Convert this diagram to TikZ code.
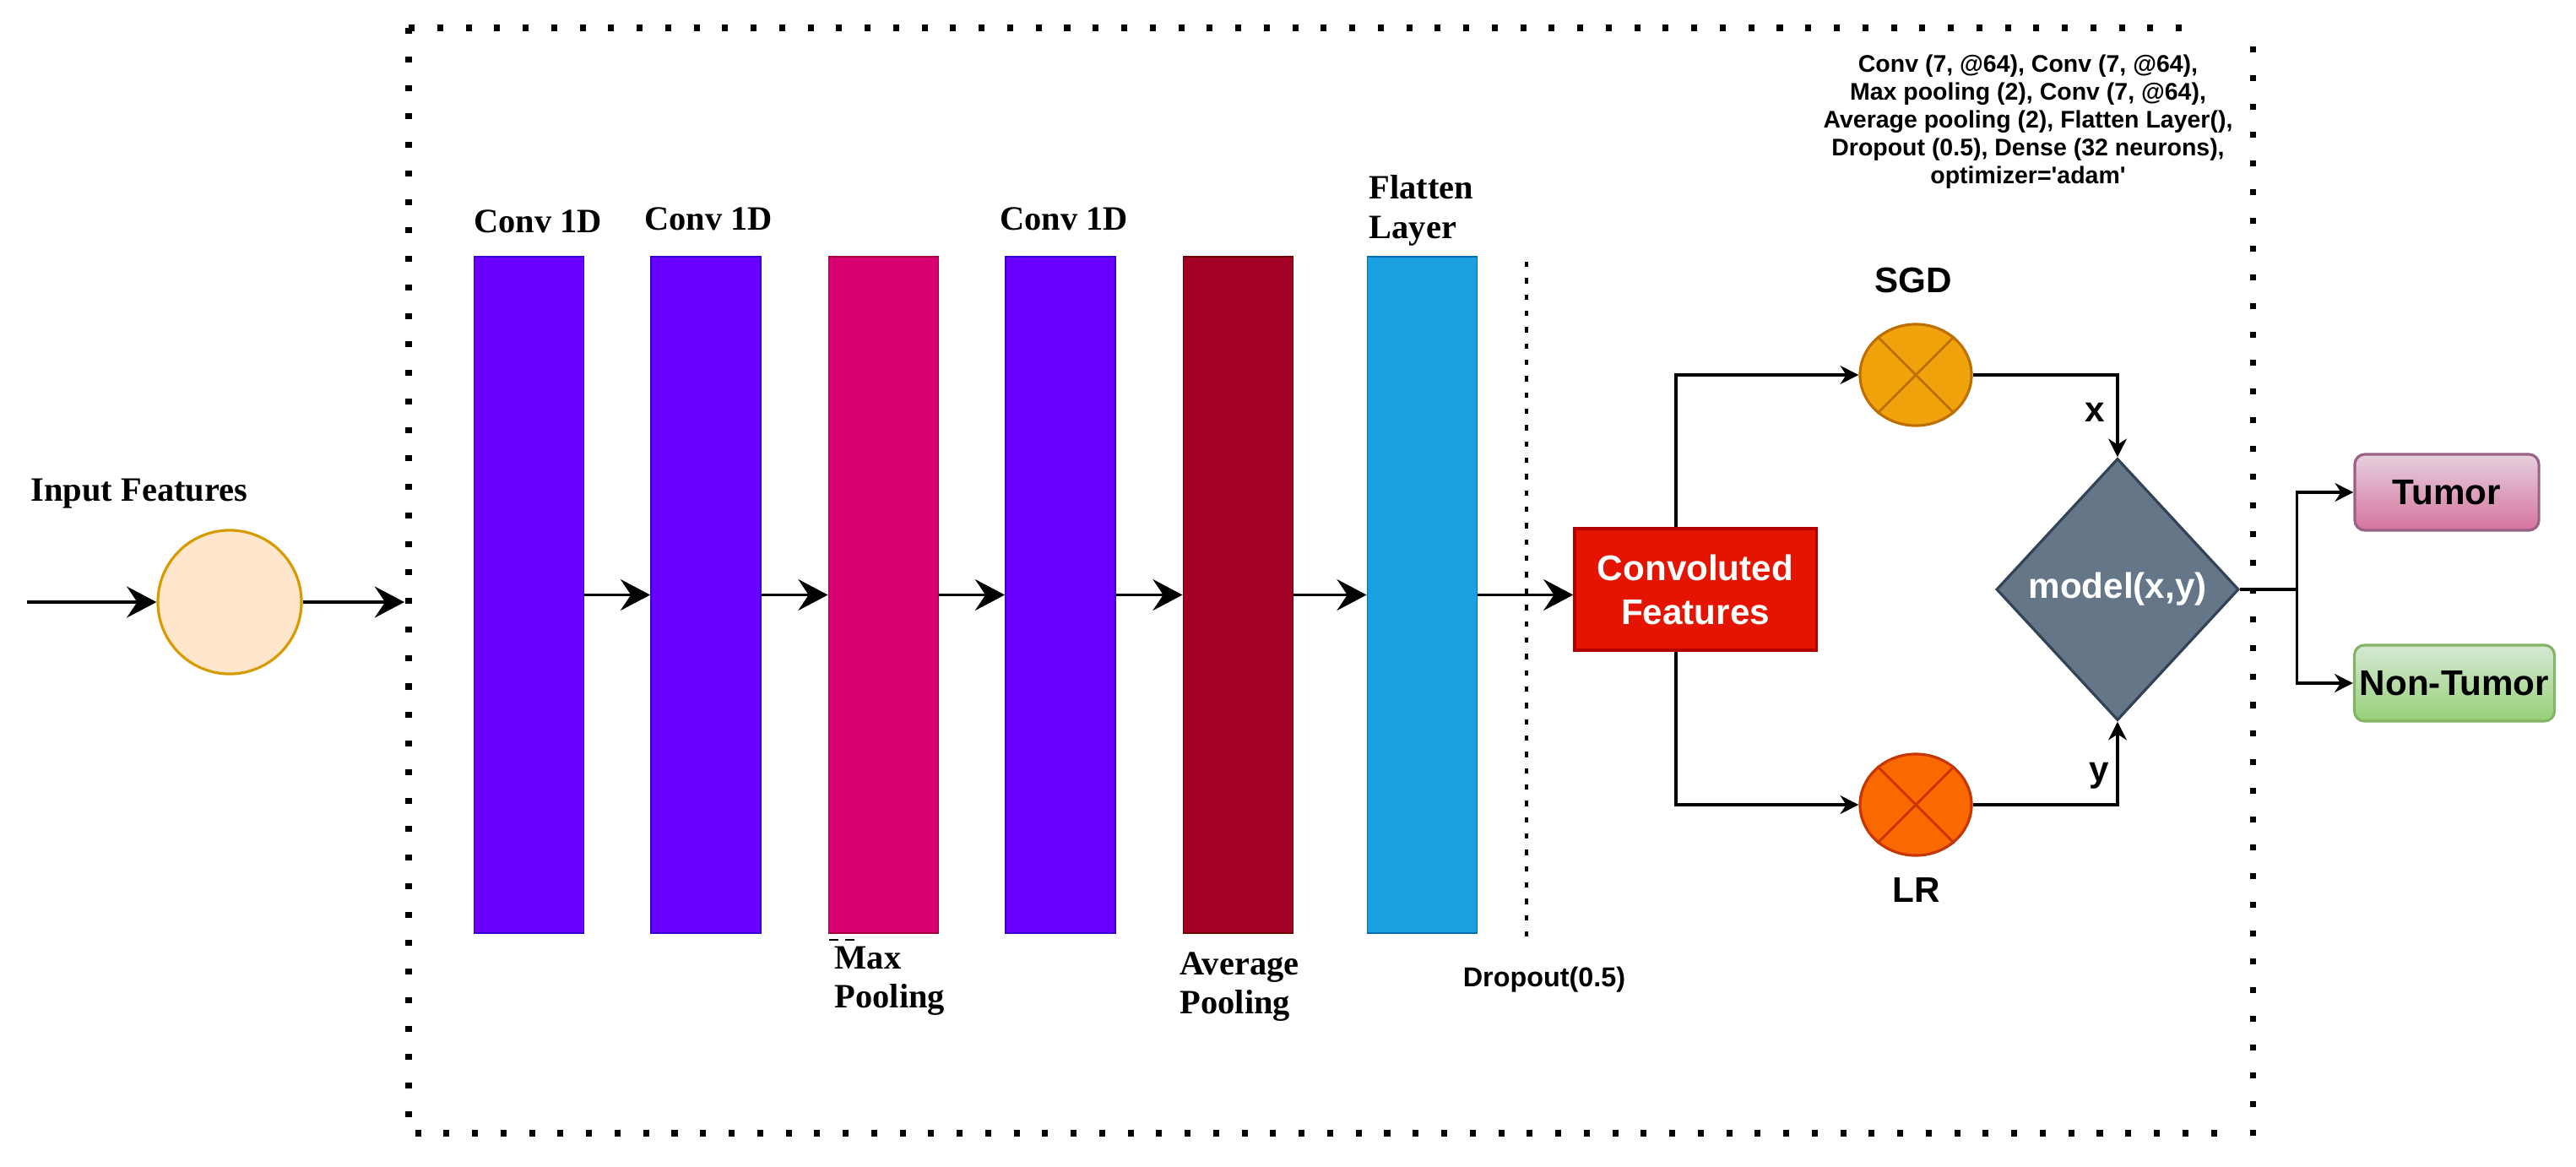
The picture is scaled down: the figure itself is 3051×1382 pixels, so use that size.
\documentclass[tikz,border=0pt]{standalone}
\usepackage{fontspec}
\setmainfont{Liberation Serif}
\newfontfamily\arialf{Liberation Sans}
\usetikzlibrary{shapes.geometric,arrows.meta,positioning}
\definecolor{convF}{HTML}{6A00FF}
\definecolor{convD}{HTML}{3700CC}
\definecolor{maxF}{HTML}{D80073}
\definecolor{maxD}{HTML}{A50040}
\definecolor{avgF}{HTML}{A20025}
\definecolor{avgD}{HTML}{6F0000}
\definecolor{flatF}{HTML}{1BA1E2}
\definecolor{flatD}{HTML}{006EAF}
\definecolor{inF}{HTML}{FFE6CC}
\definecolor{inD}{HTML}{D79B00}
\definecolor{cfF}{HTML}{E51400}
\definecolor{cfD}{HTML}{B20000}
\definecolor{sgdF}{HTML}{F0A30A}
\definecolor{sgdD}{HTML}{BD7000}
\definecolor{lrF}{HTML}{FA6800}
\definecolor{lrD}{HTML}{C73500}
\definecolor{dmF}{HTML}{647687}
\definecolor{dmD}{HTML}{314354}
\definecolor{tmT}{HTML}{E6D0DE}
\definecolor{tmB}{HTML}{D5739D}
\definecolor{tmD}{HTML}{996185}
\definecolor{ntT}{HTML}{D5E8D4}
\definecolor{ntB}{HTML}{97D077}
\definecolor{ntD}{HTML}{82B366}
\newcommand{\timesL}{\fontsize{11.5}{13.2}\selectfont\bfseries}
\newcommand{\arialL}{\arialf\fontsize{12}{14.8}\selectfont\bfseries}

\begin{document}
\begin{tikzpicture}
  [x=0.01cm,y=-0.01cm,
   barN/.style={draw,minimum width=1.3cm,minimum height=8.01cm,inner sep=0,line width=0.5pt},
   circN/.style={ellipse,draw,minimum width=1.32cm,minimum height=1.2cm,inner sep=0,line width=0.9pt},
   outN/.style={draw,rounded corners=0.12cm,minimum height=0.9cm,inner sep=0,line width=0.9pt,font=\arialL},
   frameL/.style={line width=2pt,dash pattern=on 2pt off 7.6pt},
   bigA/.style={-{Stealth[length=10pt,width=10.5pt,inset=3.5pt]},line width=1.1pt},
   smlA/.style={-{Stealth[length=6.2pt,width=6.2pt,inset=2pt]},line width=0.95pt},
  ]

 \useasboundingbox (0,0) rectangle (3051,1382);

 % frame
 \draw[frameL] (484,33) -- (2590,33);
 \draw[frameL] (2668,55) -- (2668,1350);
 \draw[frameL] (484,33) -- (484,1342) -- (2645,1342);
 \draw[line width=1.2pt,dash pattern=on 1.8pt off 3.7pt] (1808,310) -- (1808,1112);

 % input
 \node[circle,draw=inD,fill=inF,line width=0.9pt,minimum size=1.7cm] (ic) at (272,713) {};
 \coordinate (in0) at (32,713);
 \coordinate (in1) at (479,713);
 \node[anchor=base,font=\timesL] (il) at (165,593) {Input Features};

 % layers
 \node[barN,draw=convD,fill=convF] (b1) at (626.5,704.5) {};
 \node[barN,draw=convD,fill=convF] (b2) at (836,704.5)   {};
 \node[barN,draw=maxD,fill=maxF]   (b3) at (1046.5,704.5) {};
 \node[barN,draw=convD,fill=convF] (b4) at (1256,704.5)  {};
 \node[barN,draw=avgD,fill=avgF]   (b5) at (1466.5,704.5) {};
 \node[barN,draw=flatD,fill=flatF] (b6) at (1684.5,704.5) {};

 \node[anchor=base,font=\timesL] (l1) at (637,275)  {Conv 1D};
 \node[anchor=base,font=\timesL] (l2) at (839,273)  {Conv 1D};
 \node[anchor=base,font=\timesL] (l4) at (1260,273) {Conv 1D};
 \node[anchor=north west,inner sep=0,align=left,font=\timesL] (l6) at (1621,207)  {Flatten\\Layer};
 \node[anchor=north west,inner sep=0,align=left,font=\timesL] (l3) at (988,1120)  {Max\\Pooling};
 \node[anchor=north west,inner sep=0,align=left,font=\timesL] (l5) at (1397,1127) {Average\\Pooling};
 \draw[line width=0.5pt,dash pattern=on 3pt off 2.5pt] (982,1113) -- (1019,1113);
 \node[anchor=base,font=\arialf\fontsize{9.2}{11}\selectfont\bfseries] (dl) at (1829,1168) {Dropout(0.5)};

 \node[anchor=north,inner sep=0,align=center,font=\arialf\fontsize{8.1}{9.4}\selectfont\bfseries] (pl) at (2402,64)
   {Conv (7, @64), Conv (7, @64),\\ Max pooling (2), Conv (7, @64),\\ Average pooling (2), Flatten Layer(),\\
    Dropout (0.5), Dense (32 neurons),\\ optimizer='adam'};

 % classifier part
 \node[draw=cfD,fill=cfF,line width=0.9pt,minimum width=2.86cm,minimum height=1.44cm,
       align=center,text=white,font=\arialL] (cf) at (2008,698) {Convoluted\\Features};
 \node[circN,draw=sgdD,fill=sgdF] (sgd) at (2269,444) {};
 \node[circN,draw=lrD,fill=lrF]   (lr)  at (2269,953) {};
 \draw[sgdD,line width=0.8pt] (sgd.45) -- (sgd.225) (sgd.135) -- (sgd.315);
 \draw[lrD,line width=0.8pt]  (lr.45) -- (lr.225) (lr.135) -- (lr.315);
 \node[anchor=base,font=\arialL] (sl) at (2266,347)  {SGD};
 \node[anchor=base,font=\arialL] (ll) at (2270,1068) {LR};
 \node[diamond,draw=dmD,fill=dmF,line width=0.9pt,minimum width=2.87cm,minimum height=3.1cm,
       inner sep=0,text=white,font=\arialL] (dm) at (2508,698) {model(x,y)};
 \node[anchor=base,font=\arialL] (xl) at (2481,499) {x};
 \node[anchor=base,font=\arialL] (yl) at (2486,925) {y};
 \node[outN,draw=tmD,top color=tmT,bottom color=tmB,minimum width=2.18cm] (tm) at (2898,583) {Tumor};
 \node[outN,draw=ntD,top color=ntT,bottom color=ntB,minimum width=2.37cm] (nt) at (2907,809) {Non-Tumor};

 \draw[bigA] (in0) -- (ic.west);
 \draw[bigA] (ic.east) -- (in1);
 \draw[bigA] (b1) -- (b2);
 \draw[bigA] (b2) -- (b3);
 \draw[bigA] (b3) -- (b4);
 \draw[bigA] (b4) -- (b5);
 \draw[bigA] (b5) -- (b6);
 \draw[bigA] (b6.east) -- (b6.east -| cf.west);

 \draw[smlA] ([xshift=-0.23cm]cf.north) |- (sgd.west);
 \draw[smlA] ([xshift=-0.23cm]cf.south) |- (lr.west);
 \draw[smlA] (sgd.east) -| (dm.north);
 \draw[smlA] (lr.east)  -| (dm.south);
 \draw[line width=0.95pt] (dm.east) -- ++(67.5,0) coordinate (sp);
 \draw[smlA] (sp) |- (tm.west);
 \draw[smlA] (sp) |- (nt.west);

\end{tikzpicture}
\end{document}
